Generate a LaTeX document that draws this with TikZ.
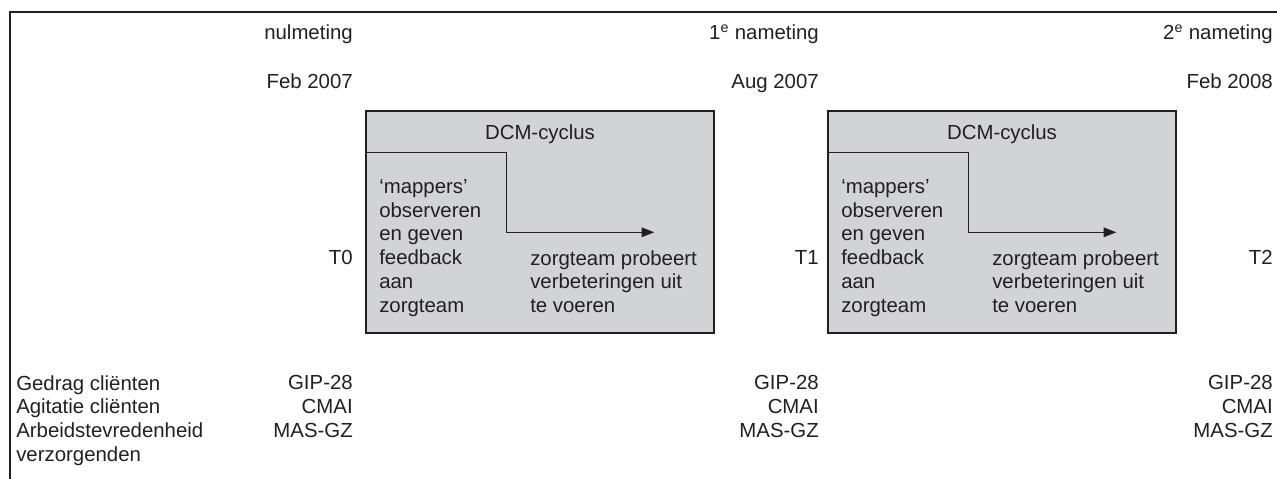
\documentclass[tikz,border=0pt]{standalone}
\usepackage{fontspec}
\setmainfont{Liberation Sans}
\usetikzlibrary{arrows.meta,positioning}
\definecolor{cyclegray}{RGB}{210,211,213}
\definecolor{inkgray}{RGB}{35,31,32}

\begin{document}
\begin{tikzpicture}
    [
    x=0.025cm, y=-0.025cm,
    every node/.style={font=\fontsize{14.5}{16.9}\selectfont, text=inkgray, inner sep=0pt},
    cyclebox/.style={draw=inkgray, line width=1pt, fill=cyclegray, minimum width=8.7cm, minimum height=5.55cm},
    flow/.style={draw=inkgray, line width=1pt, -{Triangle[length=3.2mm, width=2.4mm]}},
    frame/.style={draw=inkgray, line width=1pt}
    ]
    \useasboundingbox (0,0) rectangle (1277,479);
    \draw[frame] (10,479) -- (10,12) -- (1277,12);

    % measurement moments
    \foreach \i/\x/\moment/\date in {0/353/nulmeting/Feb 2007,
                                     1/819/1\textsuperscript{e} nameting/Aug 2007,
                                     2/1273/2\textsuperscript{e} nameting/Feb 2008}
    {
        \node[anchor=base east] (moment\i) at (\x,40) {\moment};
        \node[anchor=base east] (date\i) at (\x,89) {\date};
        \node[anchor=base east] (t\i) at (\x,264) {T\i};
        \node[anchor=north east, align=right] (inst\i) at (\x,375) {GIP-28\\CMAI\\MAS-GZ};
    }

    % DCM cycles
    \foreach \i/\x in {1/540, 2/1002}
    {
        \node[cyclebox] (box\i) at (\x,222) {};
        \node[anchor=base] (title\i) at (\x,139) {DCM-cyclus};
        \node[anchor=north west, align=left] (map\i) at (\x-161,179)
            {‘mappers’\\observeren\\en geven\\feedback\\aan\\zorgteam};
        \node[anchor=north west, align=left] (team\i) at (\x-10,250)
            {zorgteam probeert\\verbeteringen uit\\te voeren};
        \draw[flow] ([yshift=-1.05cm]box\i.north west) -| ++(3.525cm,-2cm) -- ++(3.7cm,0);
    }

    \node[anchor=north west, align=left] (vars) at (16,375)
        {Gedrag cliënten\\Agitatie cliënten\\Arbeidstevredenheid\\verzorgenden};
\end{tikzpicture}
\end{document}
